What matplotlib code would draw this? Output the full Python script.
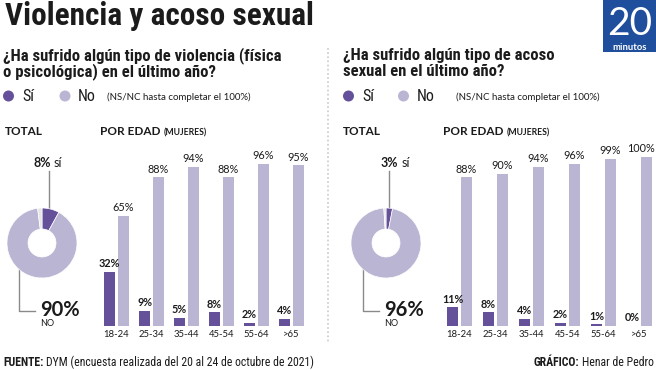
"""Violencia y acoso sexual - recreated infographic (20minutos style)."""
import matplotlib
matplotlib.use("Agg")
import matplotlib.pyplot as plt
import matplotlib.font_manager as fm
from matplotlib.patches import Rectangle, Circle
import numpy as np

# ---- data -----------------------------------------------------------------
AGES = ["18-24", "25-34", "35-44", "45-54", "55-64", ">65"]
VIOL_SI = [32, 9, 5, 8, 2, 4]
VIOL_NO = [65, 88, 94, 88, 96, 95]
ACOSO_SI = [11, 8, 4, 2, 1, 0]
ACOSO_NO = [88, 90, 94, 96, 99, 100]
TOTAL_SI = [8, 3]
TOTAL_NO = [90, 96]
QUESTIONS = [
    ["¿Ha sufrido algún tipo de violencia (física", "o psicológica) en el último año?"],
    ["¿Ha sufrido algún tipo de acoso", "sexual en el último año?"],
]

# ---- style ----------------------------------------------------------------
PURPLE = "#65509a"
LAVENDER = "#b9b5d3"
GREYSLICE = "#e6e6e6"
INK = "#1b1b1b"
LINE = "#8a8a8a"
BLUE = "#1f4e9c"

W, H = 656, 370
_names = {f.name for f in fm.fontManager.ttflist}


def pick(*cands):
    for c in cands:
        if c in _names:
            return c
    return "DejaVu Sans"


COND = pick("Liberation Sans Narrow", "Roboto Condensed", "Open Sans Condensed", "Liberation Sans")
SANS = pick("Lato", "Roboto", "Liberation Sans")

fig = plt.figure(figsize=(W / 100, H / 100), dpi=100)
bg = fig.add_axes([0, 0, 1, 1])
bg.set_xlim(0, W)
bg.set_ylim(H, 0)
bg.axis("off")


def px_axes(x0, y0, w, h):
    """Axes placed in pixel coords (y measured from top)."""
    return fig.add_axes([x0 / W, 1 - (y0 + h) / H, w / W, h / H])


def pair(x, y, bold, rest, size, family, gap=3, right=False, rest_size=None,
         rest_bold=False):
    r = fig.canvas.get_renderer()
    rs = rest_size or size
    rw = "bold" if rest_bold else "normal"
    if not right:
        t = bg.text(x, y, bold, fontsize=size, family=family, weight="bold",
                    color=INK, va="baseline", ha="left")
        bb = t.get_window_extent(r)
        bg.text(bb.x1 + gap, y, rest, fontsize=rs, family=family, weight=rw,
                color=INK, va="baseline", ha="left")
    else:
        t = bg.text(x, y, rest, fontsize=rs, family=family, weight=rw,
                    color=INK, va="baseline", ha="right")
        bb = t.get_window_extent(r)
        bg.text(bb.x0 - gap, y, bold, fontsize=size, family=family, weight="bold",
                color=INK, va="baseline", ha="right")


# ---- header ---------------------------------------------------------------
bg.text(5, 25, "Violencia y acoso sexual", fontsize=22.5, family=COND,
        weight="bold", color=INK, va="baseline")

bg.add_patch(Rectangle((603, 0), 53, 52, color=BLUE, lw=0))
bg.text(629.5, 35, "20", fontsize=28, family=SANS, color="white",
        ha="center", va="baseline")
bg.text(629.5, 49.5, "minutos", fontsize=6.8, family=SANS, weight="bold",
        color="white", ha="center", va="baseline")

# divider
bg.plot([328, 328], [48, 342], color="#c9c9c9", lw=1.2, ls=(0, (1, 1.5)))

# ---- panels ---------------------------------------------------------------
panels = [
    dict(x=3, si=VIOL_SI, no=VIOL_NO, tot=0, donut_c=(42, 243), top_lbl=33,
         bars_c0=116.5, step=35, leg=(8.5, 22, 65, 78, 107), total=5, edad=100),
    dict(x=343, si=ACOSO_SI, no=ACOSO_NO, tot=1, donut_c=(386, 243), top_lbl=381,
         bars_c0=459.5, step=36, leg=(348.5, 362, 403.5, 417, 456), total=343, edad=443),
]

R = 35  # donut outer radius in px
PX_PER_PCT = 1.69
BASE = 326

renderer = fig.canvas.get_renderer()

for i, p in enumerate(panels):
    # question
    for j, line in enumerate(QUESTIONS[i]):
        bg.text(p["x"], 60 + j * 16, line, fontsize=12, family=COND,
                weight="bold", color=INK, va="baseline")
    # legend
    c1, t1, c2, t2, t3 = p["leg"]
    bg.add_patch(Circle((c1, 96), 5.5, color=PURPLE, lw=0))
    bg.add_patch(Circle((c2, 96), 5.5, color=LAVENDER, lw=0))
    bg.text(t1, 101, "Sí", fontsize=11.5, family=COND, color=INK, va="baseline")
    bg.text(t2, 101, "No", fontsize=11.5, family=COND, color=INK, va="baseline")
    bg.text(t3, 100, "(NS/NC hasta completar el 100%)", fontsize=7, family=SANS,
            color=INK, va="baseline")
    # section headers
    bg.text(p["total"], 135, "TOTAL", fontsize=8.5, family=SANS, weight="bold",
            color=INK, va="baseline")
    pair(p["edad"], 135, "POR EDAD", "(MUJERES)", 8.5, SANS, rest_size=6.2,
         rest_bold=True)

    # donut
    si = TOTAL_SI[p["tot"]]
    no = TOTAL_NO[p["tot"]]
    ns = 100 - si - no
    cx, cy = p["donut_c"]
    dax = px_axes(cx - R, cy - R, 2 * R, 2 * R)
    dax.pie([si, no, ns], colors=[PURPLE, LAVENDER, GREYSLICE], startangle=90,
            counterclock=False, radius=1,
            wedgeprops=dict(width=0.6, edgecolor="white", linewidth=0.5))
    dax.set_xlim(-1, 1)
    dax.set_ylim(-1, 1)
    dax.set_aspect("equal")

    # leader for Sí (mid-angle of the slice)
    ang = np.deg2rad(90 - si * 3.6 / 2)
    lx = cx + R * 0.85 * np.cos(ang)
    ly = cy - R * 0.85 * np.sin(ang)
    bg.plot([lx, lx], [171, ly], color=LINE, lw=1)
    pair(p["top_lbl"], 167, f"{si}%", "sí", 9, SANS, gap=3)

    # leader for No
    bx = cx - 23
    by = cy + R * np.sqrt(1 - (23 / R) ** 2)
    bg.plot([bx, bx, bx + 16], [by, 311, 311], color=LINE, lw=1)
    bg.text(bx + 21, 316, f"{no}%", fontsize=14.5, family=SANS, weight="bold",
            color=INK, va="baseline")
    bg.text(bx + 21, 326, "NO", fontsize=6.5, family=SANS, color=INK, va="baseline")

    # bars by age
    step = p["step"]
    bax = px_axes(p["bars_c0"] - step / 2, BASE - 100 * PX_PER_PCT, step * len(AGES),
                  100 * PX_PER_PCT)
    x = np.arange(len(AGES))
    w = 11 / step
    off = 7 / step
    b1 = bax.bar(x - off, p["si"], width=w, color=PURPLE, lw=0)
    b2 = bax.bar(x + off, p["no"], width=w, color=LAVENDER, lw=0)
    bax.set_xlim(-0.5, len(AGES) - 0.5)
    bax.set_ylim(0, 100)
    labels = []
    for bars, vals, wt in ((b1, p["si"], "bold"), (b2, p["no"], "normal")):
        for rect, v in zip(bars, vals):
            a = bax.annotate(f"{v}%", (rect.get_x() + rect.get_width() / 2, v),
                             xytext=(0, 2), textcoords="offset points", ha="center",
                             va="bottom", fontsize=7.8, family=SANS, weight=wt,
                             color=INK, annotation_clip=False)
            labels.append(a)
    # keep labels inside the picture
    for a in labels:
        bb = a.get_window_extent(renderer)
        if bb.x1 > W - 1:
            a.set_position((-(bb.x1 - (W - 1)) * 72 / 100, 2))
    bax.set_xticks(x)
    bax.set_xticklabels(AGES, fontsize=6.8, family=SANS, color=INK)
    bax.tick_params(axis="x", length=0, pad=3)
    bax.set_yticks([])
    for s in bax.spines.values():
        s.set_visible(False)
    bax.patch.set_alpha(0)

# ---- footer ---------------------------------------------------------------
pair(3, 366, "FUENTE:", "DYM (encuesta realizada del 20 al 24 de octubre de 2021)",
     8.5, COND)
pair(654, 366, "GRÁFICO:", "Henar de Pedro", 8.5, COND, right=True)

fig.savefig("out.png", dpi=100)
